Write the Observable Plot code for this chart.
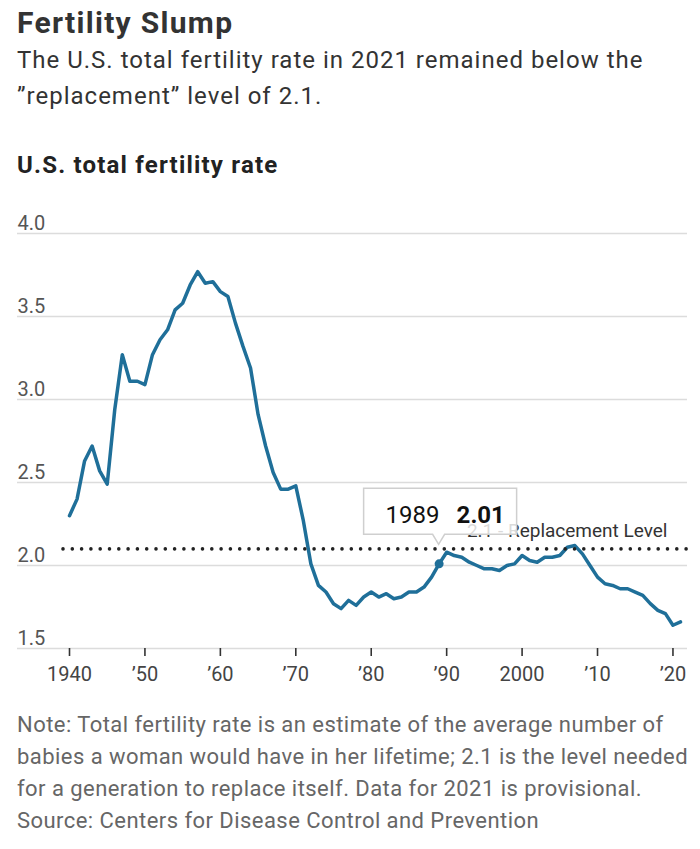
<!DOCTYPE html>
<html>
<head>
<meta charset="utf-8">
<script src="https://cdn.jsdelivr.net/npm/d3@7"></script>
<script src="https://cdn.jsdelivr.net/npm/@observablehq/plot@0.6"></script>
<style>
  html, body { margin: 0; padding: 0; background: #fff; }
  body { width: 700px; height: 849px; position: relative; overflow: hidden;
         font-family: "Roboto", sans-serif; }
  .t { position: absolute; left: 17px; white-space: nowrap; }
  #title { top: 8px; font-size: 30px; line-height: 29px; font-weight: bold; color: #333; letter-spacing: 1.3px; }
  #sub { top: 42px; font-size: 24px; line-height: 36px; color: #333; letter-spacing: 1.0px; }
  #label { top: 153px; font-size: 24px; line-height: 24px; font-weight: bold; color: #222; letter-spacing: 1.2px; }
  #chart { position: absolute; left: 0; top: 200px; }
  #note { top: 709px; font-size: 22px; line-height: 32px; color: #666; letter-spacing: 0.45px; }
</style>
</head>
<body>
<div class="t" id="title">Fertility Slump</div>
<div class="t" id="sub">The U.S. total fertility rate in 2021 remained below the<br>”replacement” level of 2.1.</div>
<div class="t" id="label">U.S. total fertility rate</div>
<div id="chart"></div>
<div class="t" id="note">Note: Total fertility rate is an estimate of the average number of<br>babies a woman would have in her lifetime; 2.1 is the level needed<br>for a generation to replace itself. Data for 2021 is provisional.<br>Source: Centers for Disease Control and Prevention</div>
<script>
const years = d3.range(1940, 2022);
const rates = [
  2.30, 2.40, 2.63, 2.72, 2.57, 2.49, 2.94, 3.27, 3.11, 3.11,
  3.09, 3.27, 3.36, 3.42, 3.54, 3.58, 3.69, 3.77, 3.70, 3.71,
  3.65, 3.62, 3.46, 3.32, 3.19, 2.91, 2.72, 2.56, 2.46, 2.46,
  2.48, 2.27, 2.01, 1.88, 1.84, 1.77, 1.74, 1.79, 1.76, 1.81,
  1.84, 1.81, 1.83, 1.80, 1.81, 1.84, 1.84, 1.87, 1.93, 2.01,
  2.08, 2.06, 2.05, 2.02, 2.00, 1.98, 1.98, 1.97, 2.00, 2.01,
  2.06, 2.03, 2.02, 2.05, 2.05, 2.06, 2.11, 2.12, 2.07, 2.00,
  1.93, 1.89, 1.88, 1.86, 1.86, 1.84, 1.82, 1.77, 1.73, 1.71,
  1.64, 1.66
];
const yTicks = [1.5, 2.0, 2.5, 3.0, 3.5, 4.0];
const xTicks = [1940, 1950, 1960, 1970, 1980, 1990, 2000, 2010, 2020];
const replacement = 2.1;
const replacementLabel = "2.1 - Replacement Level";
const highlightYear = 1989;
const highlightRate = 2.01;

const data = years.map((year, i) => ({year, rate: rates[i]}));
const lineColor = "#1f6f99";
const font = '"Roboto", sans-serif';

const xFmt = d => (d === 1940 || d === 2000) ? String(d) : "’" + String(d).slice(2);

function tooltipMark(index, scales) {
  const px = scales.x(highlightYear), py = scales.y(highlightRate);
  const g = d3.create("svg:g");
  const L = px - 75, R = px + 78, T = py - 75, B = py - 29;
  g.append("path")
    .attr("d", `M${L},${T}H${R}V${B}H${px + 6}L${px},${py - 19}L${px - 6},${B}H${L}Z`)
    .attr("fill", "#fff").attr("fill-opacity", 0.82)
    .attr("stroke", "#cfcfcf").attr("stroke-width", 1.5);
  const t = g.append("text").attr("y", py - 40).attr("font-size", 24)
    .attr("font-family", font).attr("fill", "#111").attr("text-anchor", "start");
  t.append("tspan").attr("x", px - 53).text(String(highlightYear));
  t.append("tspan").attr("x", px + 18).attr("font-weight", "bold").text(highlightRate.toFixed(2));
  return g.node();
}

const chart = Plot.plot({
  width: 700,
  height: 500,
  marginLeft: 69,
  marginRight: 20,
  marginTop: 33,
  marginBottom: 52,
  style: {fontFamily: font, fontSize: "20px", background: "transparent", color: "#444"},
  x: {domain: [1940, 2021], axis: null},
  y: {domain: [1.5, 4.0], axis: null},
  marks: [
    Plot.ruleY(yTicks, {stroke: "#dcdcdc", strokeWidth: 1.5, insetLeft: -52, insetRight: -7}),
    Plot.text(yTicks, {y: d => d, frameAnchor: "left", dx: -52, dy: -4, textAnchor: "start",
      lineAnchor: "bottom", text: d => d.toFixed(1), fill: "#555", fontSize: 20}),
    Plot.axisX({ticks: xTicks, tickFormat: xFmt, tickSize: 8, tickPadding: 10, stroke: "#333",
      strokeWidth: 1.6, fill: "#444", fontSize: 20, label: null}),
    Plot.text([replacement], {y: d => d, frameAnchor: "right", dx: -13, dy: -12, textAnchor: "end",
      lineAnchor: "bottom", text: () => replacementLabel, fill: "#333", fontSize: 19}),
    Plot.line(data, {x: "year", y: "rate", stroke: lineColor, strokeWidth: 3.5}),
    Plot.ruleY([replacement], {stroke: "#222", strokeWidth: 3.6, strokeDasharray: "0,9.3",
      strokeLinecap: "round", insetLeft: -6, insetRight: -7}),
    Plot.dot([{year: highlightYear, rate: highlightRate}], {x: "year", y: "rate", r: 4.5, fill: lineColor}),
    tooltipMark
  ]
});
document.getElementById("chart").appendChild(chart);
</script>
</body>
</html>
